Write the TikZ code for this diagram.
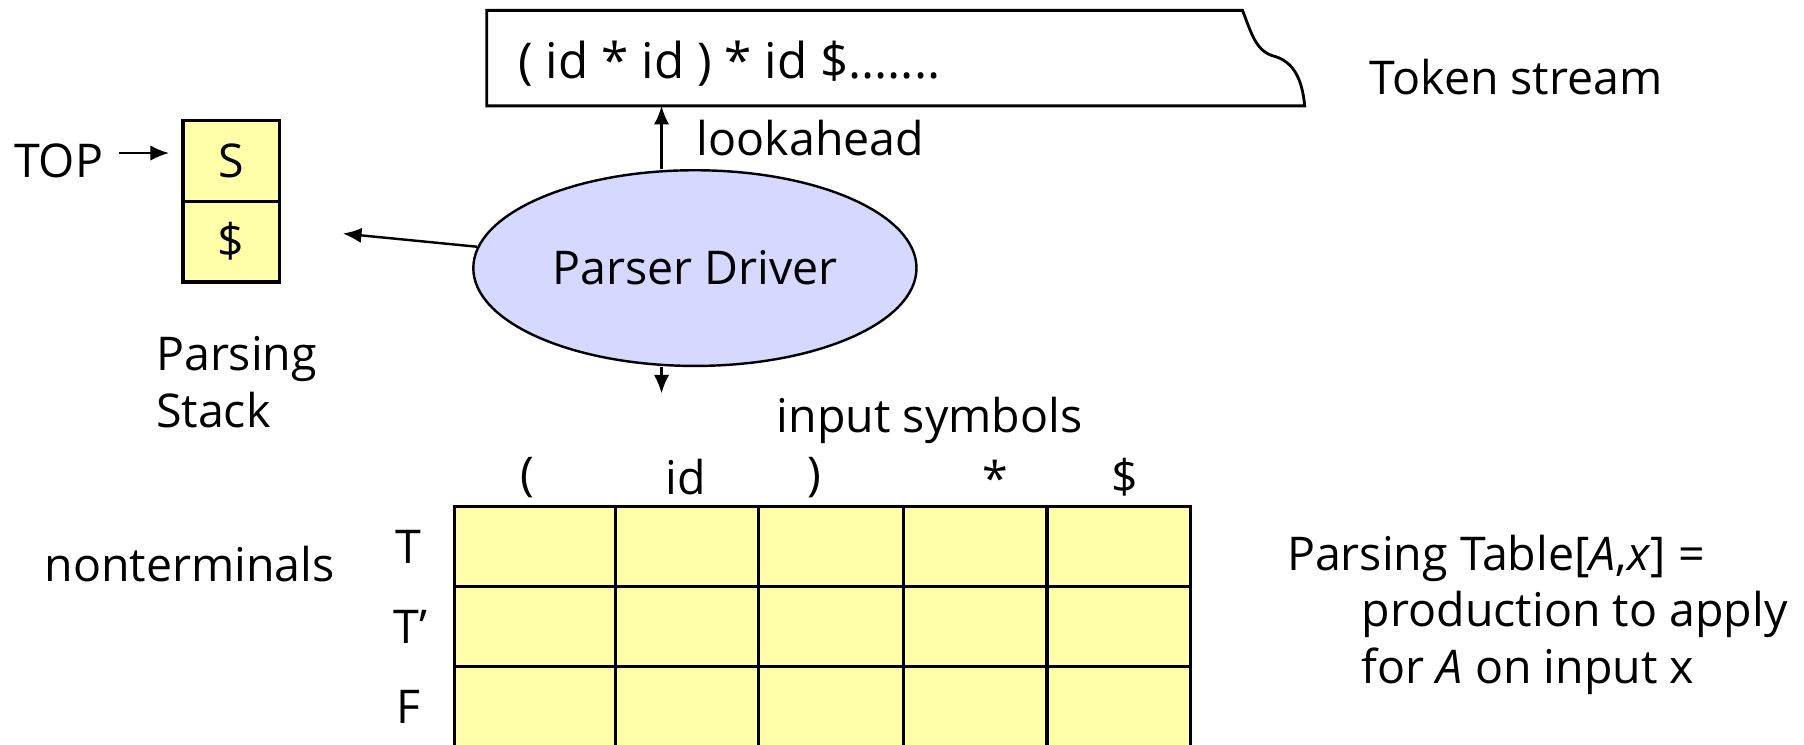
\documentclass[tikz,border=0pt]{standalone}
\usepackage{fontspec}
\setmainfont{Open Sans}
\usetikzlibrary{arrows,arrows.meta,positioning,shapes.geometric}
\definecolor{cellyellow}{RGB}{255,255,170}
\definecolor{drvblue}{RGB}{214,216,255}
\tikzstyle{cell}=[draw, line width=.8pt, fill=cellyellow, minimum width=.84cm, minimum height=.7cm, inner sep=0, outer sep=0]
\tikzstyle{driver}=[draw, ellipse, fill=drvblue, line width=.6pt, minimum width=3.85cm, minimum height=1.7cm]
\tikzstyle{lbl}=[inner sep=0]

\begin{document}
\begin{tikzpicture}[x=.01cm,y=-.01cm,>={Latex[length=4.6pt,width=3.8pt]},font=\fontsize{11.5}{14}\selectfont]
\useasboundingbox (0,0) rectangle (1568,647);

% token stream
\draw [line width=.7pt, fill=white] (423,9) -- (1080,9) .. controls (1088,30) and (1092,45) .. (1108,49)
      .. controls (1125,54) and (1132,70) .. (1134,92) -- (423,92) -- cycle;
\node [lbl, anchor=west, font=\fontsize{12.2}{14}\selectfont] (tokens) at (450,55) {( id * id ) * id \$.......};
\node [lbl, anchor=west] (tstream) at (1190,67) {Token stream};
\coordinate (look) at (575,92);

% parser driver
\node [driver] (drv) at (604,233) {Parser Driver};
\node [lbl, anchor=west] (lookahead) at (605,120) {lookahead};
\draw [->, line width=.6pt] (look |- drv.north) -- (look);

% parsing stack
\node [cell] (s) at (201,140) {S};
\node [cell] (dollar) [below=0cm of s] {\$};
\node [lbl] (top) at (51,140) {TOP};
\draw [->, line width=.6pt, shorten <=.13cm, shorten >=.12cm] ([yshift=.07cm]top.east) -- ([yshift=.07cm]s.west);
\coordinate (stk) at (298,203);
\draw [->, line width=.6pt] (drv) -- (stk);
\node [lbl, align=left, anchor=north west] (pstack) at (135,292) {Parsing\\Stack};

% parsing table
\coordinate (tbl) at (575,342);
\draw [->, line width=.6pt] (tbl |- drv.south) -- (tbl);
\node [lbl] (insym) at (808,365) {input symbols};
\foreach \x/\s [count=\i] in {458/{(}, 596/id, 708/{)}, 865/*, 978/\$}
    \node [lbl] (h\i) at (\x,415) {\s};
\foreach \xa/\xb in {395/535, 535/659, 659/785, 785/910, 910/1035}
    \foreach \ya/\yb in {440/510, 510/579, 579/670}
        \draw [line width=.8pt, fill=cellyellow] (\xa,\ya) rectangle (\xb,\yb);
\node [lbl] (rt) at (355,475) {T};
\node [lbl] (rtp) at (357,545) {T’};
\node [lbl] (rf) at (355,614) {F};
\node [lbl, anchor=west] (nonterm) at (38,490) {nonterminals};
\node [lbl, align=left, anchor=north west] (ptable) at (1118,464)
    {Parsing Table[\textit{A},\textit{x}] =\\\hspace*{.65cm}production to apply\\\hspace*{.65cm}for \textit{A} on input x};
\end{tikzpicture}
\end{document}
